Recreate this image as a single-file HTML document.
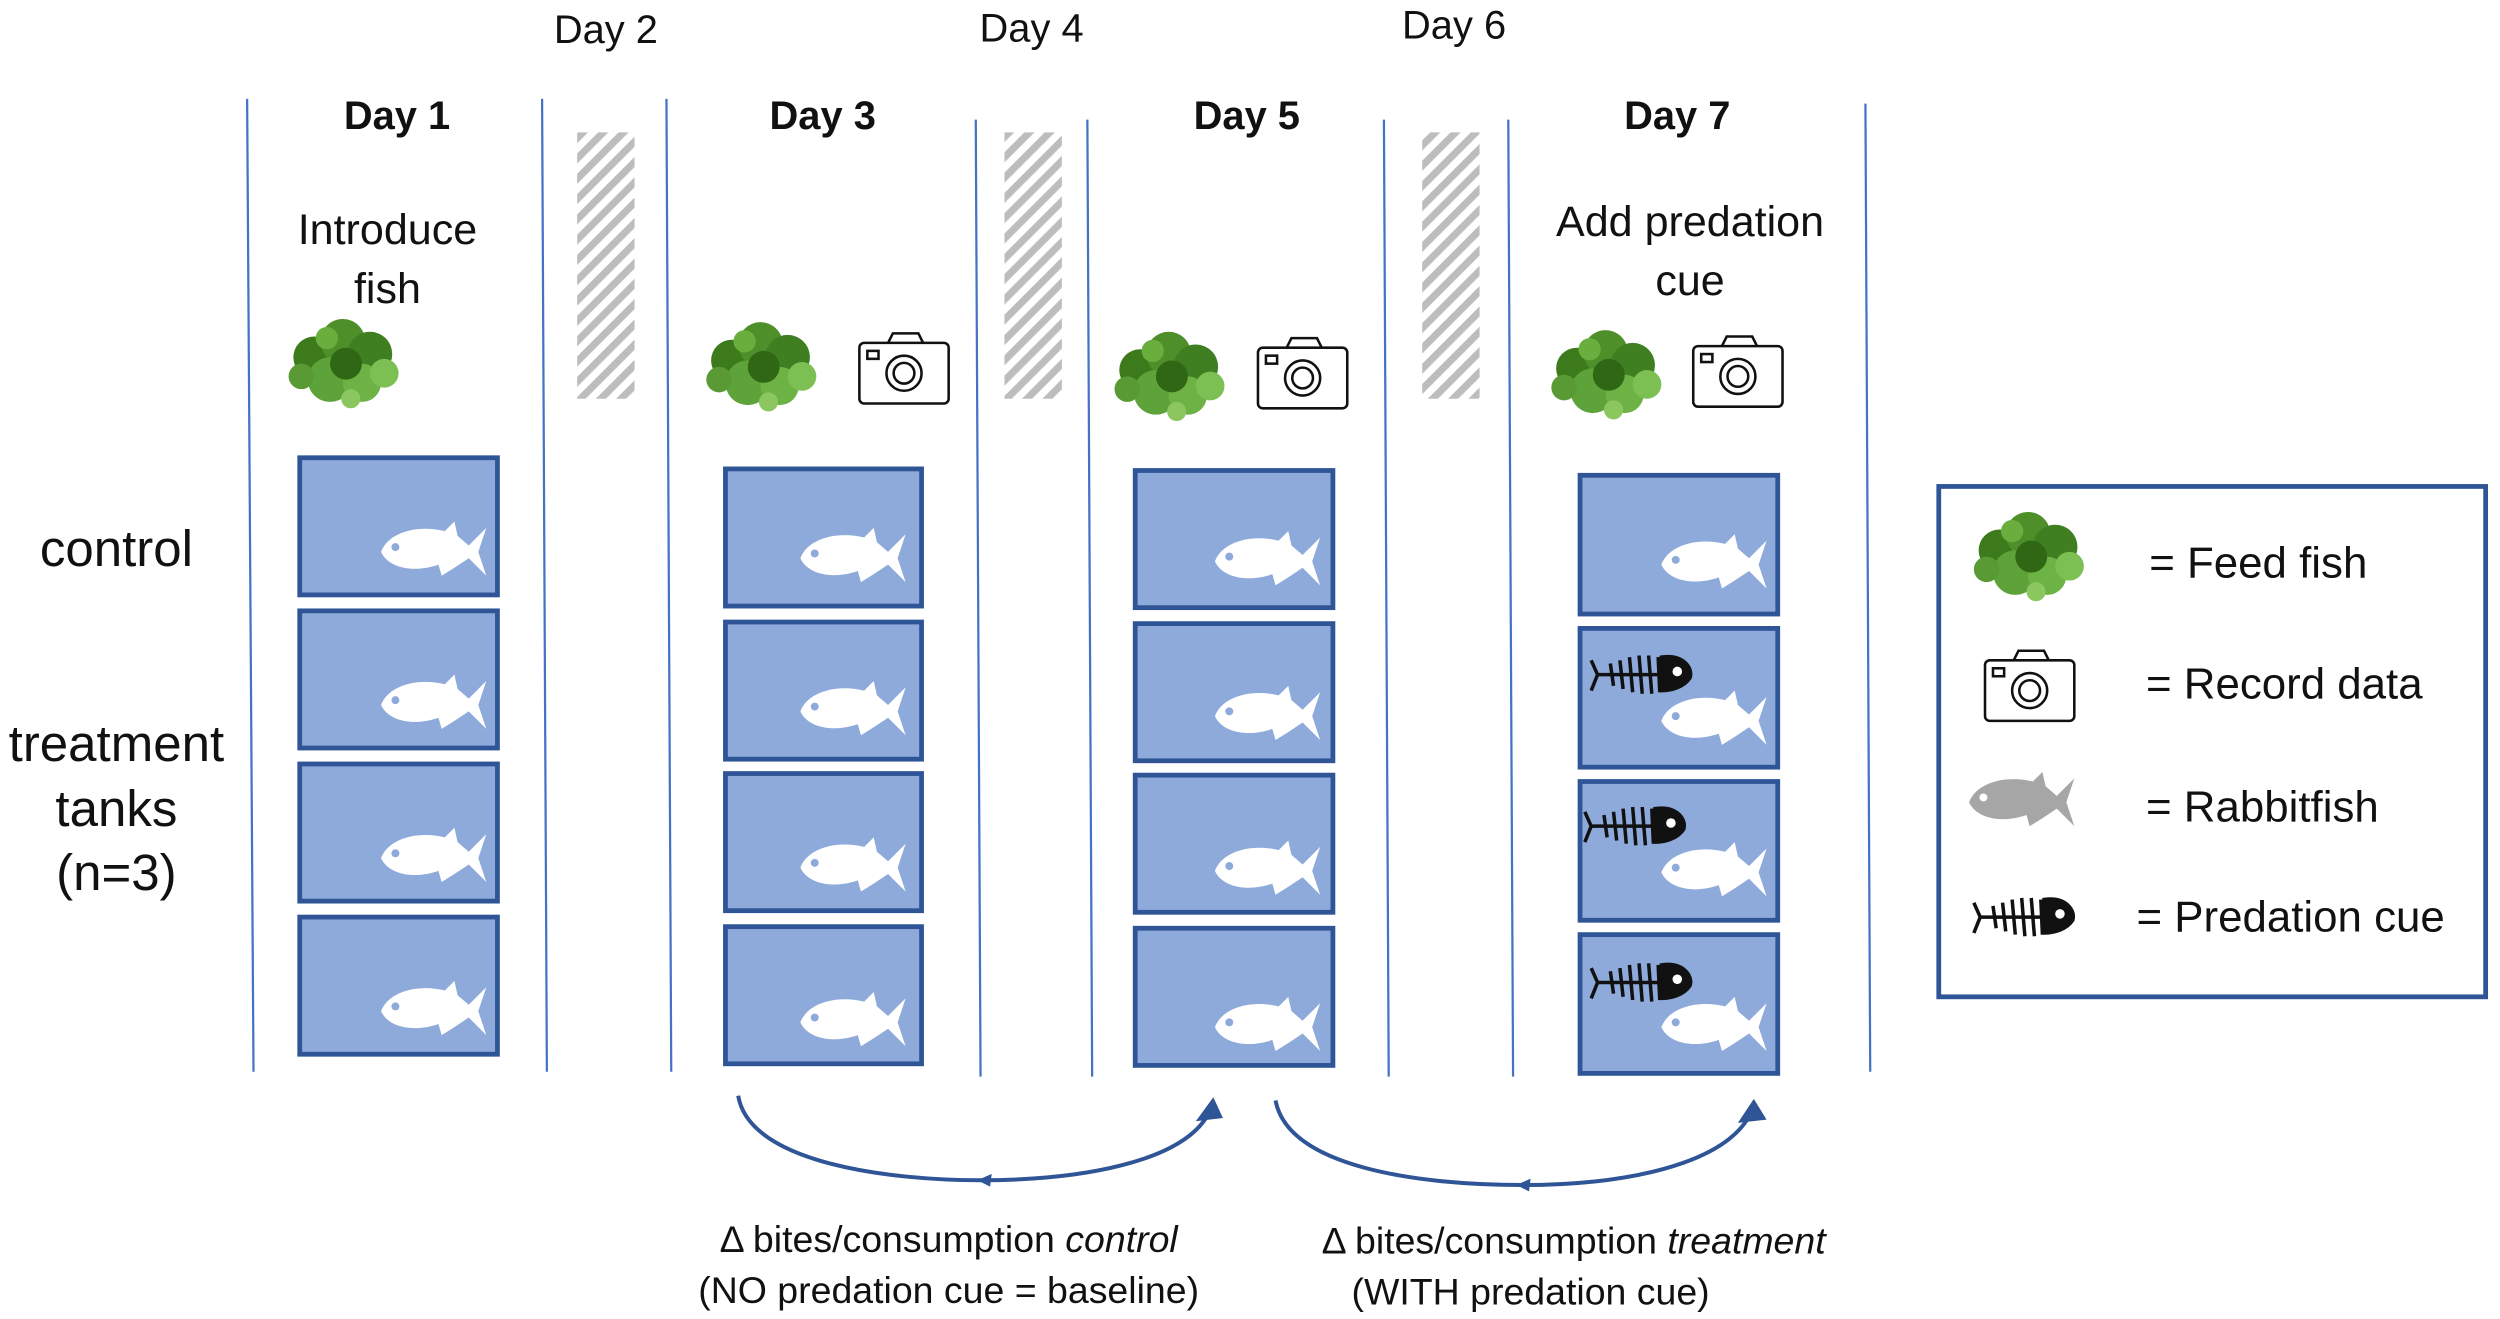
<!DOCTYPE html>
<html><head><meta charset="utf-8"><style>
html,body{margin:0;padding:0;background:#fff;}
svg{display:block;}
text{font-family:"Liberation Sans","DejaVu Sans",sans-serif;fill:#111;}
</style></head><body>
<svg width="2500" height="1319" viewBox="0 0 1568 827" preserveAspectRatio="none" xmlns="http://www.w3.org/2000/svg">
<defs>
<pattern id="hatch" width="9" height="9" patternUnits="userSpaceOnUse" patternTransform="rotate(45)">
<rect width="9" height="9" fill="#fff"/><rect width="4.5" height="9" fill="#bdbdbd"/>
</pattern>
<g id="fish">
<path d="M-32,0 C-27,-13 -8,-17 8,-13 L14,-19 L16,-10 L23,-4 L34,-15 L29,0 L34,15 L23,4 L14,10 L6,15 L4,8 C-10,13 -27,11 -32,0 Z" fill="#fff"/>
<circle cx="-23" cy="-3" r="2.5" fill="#8eaadb"/>
</g>
<g id="gfish">
<path d="M-32,0 C-27,-13 -8,-17 8,-13 L14,-19 L16,-10 L23,-4 L34,-15 L29,0 L34,15 L23,4 L14,10 L6,15 L4,8 C-10,13 -27,11 -32,0 Z" fill="#a6a6a6"/>
<circle cx="-23" cy="-3" r="2.5" fill="#fff"/>
</g>
<g id="bone" stroke="#111" fill="none" stroke-width="2.2">
<path d="M-28,0 L14,0"/>
<path d="M-28,0 L-32,-9 M-28,0 L-32,10"/>
<path d="M-20,-7 L-18,7 M-14,-9 L-12,9 M-8,-11 L-6,11 M-2,-12 L0,12 M4,-12 L6,12 M10,-11 L11,11"/>
<path d="M12,-11 C26,-13 32,-4 30,2 C26,8 18,10 12,10 Z" fill="#111"/>
<circle cx="22" cy="-2" r="3" fill="#fff" stroke="none"/>
</g>
<g id="lettuce">
<circle cx="-18" cy="-4" r="13" fill="#3d7a1c"/><circle cx="0" cy="-14" r="14" fill="#4e8f2a"/>
<circle cx="17" cy="-6" r="14" fill="#3f7f22"/><circle cx="-8" cy="10" r="14" fill="#5ea33a"/>
<circle cx="12" cy="12" r="12" fill="#6db244"/><circle cx="26" cy="6" r="9" fill="#7cbf52"/>
<circle cx="-26" cy="8" r="8" fill="#5a9a34"/><circle cx="2" cy="0" r="10" fill="#2f6715"/>
<circle cx="-10" cy="-16" r="7" fill="#6aae3e"/><circle cx="5" cy="22" r="6" fill="#8bc65e"/>
</g>
<g id="cam" fill="none" stroke="#111" stroke-width="1.6">
<rect x="-28" y="-16" width="56" height="38" rx="3" fill="#fff"/>
<path d="M-10,-16 L-7,-22 L9,-22 L12,-16"/>
<circle cx="0" cy="3" r="11"/><circle cx="0" cy="3" r="6.5"/>
<rect x="-23" y="-11" width="7" height="5"/>
</g>
</defs>

<g stroke="#4472c4" stroke-width="1.4">
<line x1="155" y1="62" x2="159" y2="672"/>
<line x1="340" y1="62" x2="343" y2="672"/>
<line x1="418" y1="62" x2="421" y2="672"/>
<line x1="612" y1="75" x2="615" y2="675"/>
<line x1="682" y1="75" x2="685" y2="675"/>
<line x1="868" y1="75" x2="871" y2="675"/>
<line x1="946" y1="75" x2="949" y2="675"/>
<line x1="1170" y1="65" x2="1173" y2="672"/>
</g>

<rect x="362" y="83" width="36" height="167" fill="url(#hatch)"/>
<rect x="630" y="83" width="36" height="167" fill="url(#hatch)"/>
<rect x="892" y="83" width="36" height="167" fill="url(#hatch)"/>

<g font-size="25" text-anchor="middle">
<text x="380" y="27">Day 2</text>
<text x="647" y="26">Day 4</text>
<text x="912" y="24">Day 6</text>
</g>
<g font-size="25" font-weight="bold" text-anchor="middle">
<text x="249" y="81">Day 1</text>
<text x="516" y="81">Day 3</text>
<text x="782" y="81">Day 5</text>
<text x="1052" y="81">Day 7</text>
</g>
<g font-size="27" text-anchor="middle">
<text x="243" y="153">Introduce</text>
<text x="243" y="190">fish</text>
<text x="1060" y="148">Add predation</text>
<text x="1060" y="185">cue</text>
</g>

<g font-size="32" text-anchor="middle">
<text x="73" y="355">control</text>
<text x="73" y="477">treatment</text>
<text x="73" y="518">tanks</text>
<text x="73" y="558">(n=3)</text>
</g>

<use href="#lettuce" x="215" y="228"/>
<use href="#lettuce" x="477" y="230"/>
<use href="#lettuce" x="733" y="236"/>
<use href="#lettuce" x="1007" y="235"/>
<use href="#cam" x="567" y="231"/>
<use href="#cam" x="817" y="234"/>
<use href="#cam" x="1090" y="233"/>

<g fill="#8eaadb" stroke="#2f5597" stroke-width="3">
<rect x="188" y="287" width="124" height="86"/><rect x="188" y="383" width="124" height="86"/>
<rect x="188" y="479" width="124" height="86"/><rect x="188" y="575" width="124" height="86"/>
<rect x="455" y="294" width="123" height="86"/><rect x="455" y="390" width="123" height="86"/>
<rect x="455" y="485" width="123" height="86"/><rect x="455" y="581" width="123" height="86"/>
<rect x="712" y="295" width="124" height="86"/><rect x="712" y="391" width="124" height="86"/>
<rect x="712" y="486" width="124" height="86"/><rect x="712" y="582" width="124" height="86"/>
<rect x="991" y="298" width="124" height="87"/><rect x="991" y="394" width="124" height="87"/>
<rect x="991" y="490" width="124" height="87"/><rect x="991" y="586" width="124" height="87"/>
</g>
<g>
<use href="#fish" x="271" y="346"/><use href="#fish" x="271" y="442"/>
<use href="#fish" x="271" y="538"/><use href="#fish" x="271" y="634"/>
<use href="#fish" x="534" y="350"/><use href="#fish" x="534" y="446"/>
<use href="#fish" x="534" y="544"/><use href="#fish" x="534" y="641"/>
<use href="#fish" x="794" y="352"/><use href="#fish" x="794" y="449"/>
<use href="#fish" x="794" y="546"/><use href="#fish" x="794" y="644"/>
<use href="#fish" x="1074" y="354"/><use href="#fish" x="1074" y="452"/>
<use href="#fish" x="1074" y="547"/><use href="#fish" x="1074" y="644"/>
</g>
<use href="#bone" x="1030" y="423"/>
<use href="#bone" x="1026" y="518"/>
<use href="#bone" x="1030" y="616"/>

<g fill="none" stroke="#2f5597" stroke-width="2.5">
<path d="M463,687 C470,730 560,740 615,740 C680,740 740,728 757,700"/>
<path d="M800,690 C808,732 890,743 955,743 C1020,743 1080,730 1097,700"/>
</g>
<g fill="#2f5597">
<polygon points="750,703 767,701 761,688"/>
<polygon points="1090,704 1108,702 1100,689"/>
<polygon points="613,740 622,736 621,744"/>
<polygon points="951,743 960,739 959,747"/>
</g>
<g font-size="23.5" text-anchor="middle">
<text x="595" y="785">Δ bites/consumption <tspan font-style="italic">control</tspan></text>
<text x="595" y="817">(NO predation cue = baseline)</text>
<text x="987" y="786">Δ bites/consumption <tspan font-style="italic">treatment</tspan></text>
<text x="960" y="818">(WITH predation cue)</text>
</g>

<rect x="1216" y="305" width="343" height="320" fill="#fff" stroke="#2f5597" stroke-width="3"/>
<use href="#lettuce" x="1272" y="349"/>
<use href="#cam" x="1273" y="430"/>
<use href="#gfish" x="1267" y="503"/>
<use href="#bone" x="1270" y="575"/>
<g font-size="27.5">
<text x="1348" y="362">=  Feed fish</text>
<text x="1346" y="438">=  Record data</text>
<text x="1346" y="515">=  Rabbitfish</text>
<text x="1340" y="584">=  Predation cue</text>
</g>
</svg>
</body></html>
